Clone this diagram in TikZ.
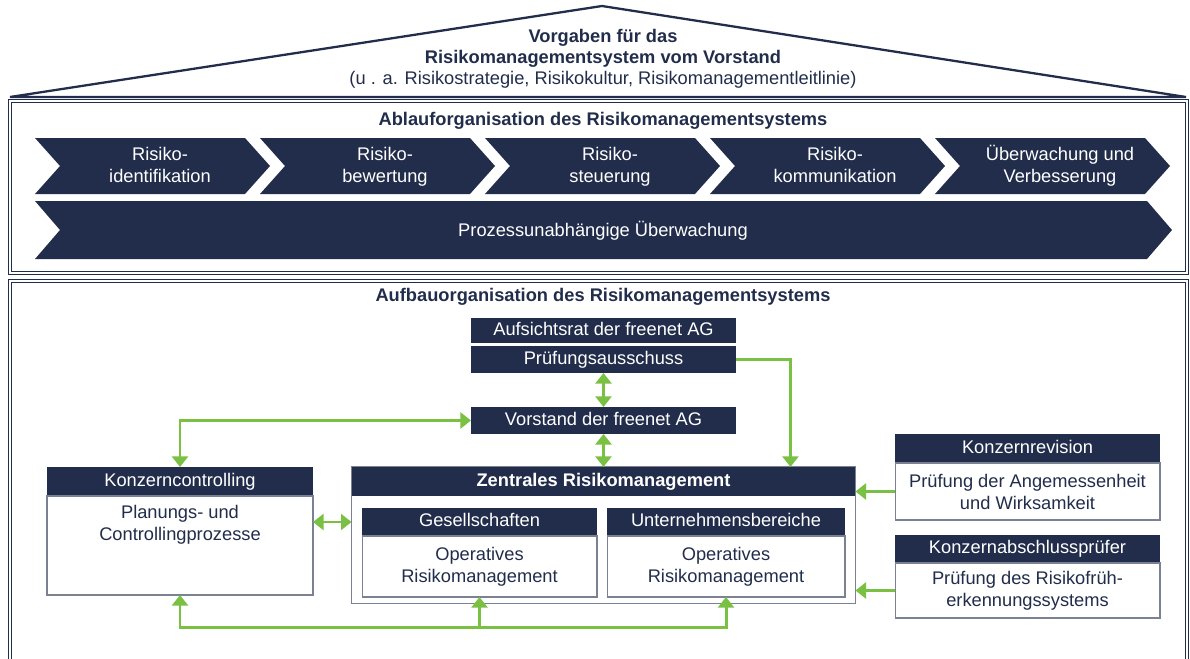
\documentclass[tikz,border=0pt]{standalone}
\usepackage{fontspec}
\setmainfont{Liberation Sans}
\usetikzlibrary{arrows.meta,positioning}
\definecolor{navy}{RGB}{33,45,74}
\definecolor{lime}{RGB}{122,192,67}

\begin{document}
\begin{tikzpicture}[x=0.02cm,y=-0.02cm,>={Triangle[width=9pt,length=6pt]},
	font=\fontsize{10.4}{12.5}\selectfont,text=navy,
	title/.style={font=\fontsize{10.4}{12.5}\selectfont\bfseries},
	head/.style={fill=navy,text=white,minimum height=0.56cm,text height=7.6pt,text depth=2.2pt,inner sep=1pt,outer sep=0pt},
	body/.style={draw=navy!60,line width=0.6pt,fill=white,align=center,inner sep=1pt,outer sep=0pt},
	flow/.style={draw=lime,line width=1.7pt},
	frame/.style={draw=navy,line width=0.7pt,double=white,double distance=0.6pt}]

	\useasboundingbox (0,0) rectangle (1190,659);

	% roof
	\draw[navy,line width=1.3pt] (10,97) -- (602,6) -- (1186,97) -- cycle;
	\node[align=center,font=\fontsize{10.4}{12}\selectfont] (vorgaben) at (603,59)
		{\textbf{Vorgaben für das}\\\textbf{Risikomanagementsystem vom Vorstand}\\(u . a. Risikostrategie, Risikokultur, Risikomanagementleitlinie)};

	% process chain
	\draw[frame] (10,101) rectangle (1187,273);
	\node[title] (ablauf) at (603,121) {Ablauforganisation des Risikomanagementsystems};
	\foreach \i/\txt in {0/{Risiko-\strut\\identifikation\strut},1/{Risiko-\strut\\bewertung\strut},2/{Risiko-\strut\\steuerung\strut},
		3/{Risiko-\strut\\kommunikation\strut},4/{Überwachung und\strut\\Verbesserung\strut}}{
		\fill[navy] (35+225*\i,138) -- ++(210,0) -- ++(25,28) -- ++(-25,28) -- ++(-210,0) -- ++(25,-28) -- cycle;
		\node[text=white,align=center] (proc\i) at (160+225*\i,167) {\txt};
	}
	\fill[navy] (35,201) -- (1147,201) -- (1172,230) -- (1147,259) -- (35,259) -- (60,230) -- cycle;
	\node[text=white] (unabh) at (603,231) {Prozessunabhängige Überwachung};

	% organisation
	\draw[frame] (10,664) -- (10,281) -- (1187,281) -- (1187,664);
	\node[title] (aufbau) at (603,297) {Aufbauorganisation des Risikomanagementsystems};

	\node[head,minimum width=5.3cm,minimum height=0.5cm] (aufsicht) at (603.5,330.5) {Aufsichtsrat der freenet AG};
	\node[head,minimum width=5.3cm,minimum height=0.54cm,below=0.06cm of aufsicht] (pruefung) {Prüfungsausschuss};
	\node[head,minimum width=5.3cm,minimum height=0.54cm,below=0.68cm of pruefung] (vorstand) {Vorstand der freenet AG};

	\node[body,minimum width=10.08cm,minimum height=2.74cm,below=0.66cm of vorstand] (zrm) {};
	\node[head,title,text=white,minimum width=10.08cm,minimum height=0.58cm,below=0pt of zrm.north] (zhead) {Zentrales Risikomanagement};
	\node[head,minimum width=4.7cm] (gesellhead) at (479.5,522) {Gesellschaften};
	\node[body,minimum width=4.7cm,minimum height=1.22cm,below=0pt of gesellhead] (gesellbody) {Operatives\\Risikomanagement};
	\node[head,minimum width=4.76cm] (unterhead) at (726,522) {Unternehmensbereiche};
	\node[body,minimum width=4.76cm,minimum height=1.22cm,below=0pt of unterhead] (unterbody) {Operatives\\Risikomanagement};

	\node[head,minimum width=5.32cm,minimum height=0.58cm] (ctrlhead) at (180,481.5) {Konzerncontrolling};
	\node[body,minimum width=5.32cm,minimum height=1.98cm,below=0pt of ctrlhead] (ctrlbody) {};
	\node[align=center] (ctrltext) at (180,525) {Planungs- und\\Controllingprozesse};

	\node[head,minimum width=5.3cm,minimum height=0.58cm] (revhead) at (1027.5,448.5) {Konzernrevision};
	\node[body,minimum width=5.3cm,minimum height=1.14cm,below=0pt of revhead] (revbody) {Prüfung der Angemessenheit\\und Wirksamkeit};
	\node[head,minimum width=5.3cm] (abshead) at (1027.5,549) {Konzernabschlussprüfer};
	\node[body,minimum width=5.3cm,minimum height=1.1cm,below=0pt of abshead] (absbody) {Prüfung des Risikofrüh-\\erkennungssystems};

	\coordinate (bl) at (180,627);
	\coordinate (br) at (726,627);

	\draw[flow,<->] (pruefung.south) -- (vorstand.north);
	\draw[flow,<->] (vorstand.south) -- (zhead.north);
	\draw[flow,<->] (vorstand.west) -| (ctrlhead.north);
	\draw[flow,->] (pruefung.east) -| ([xshift=3.74cm]zrm.north);
	\draw[flow,<->] (ctrlbody.east |- gesellhead) -- (zrm.west |- gesellhead);
	\draw[flow,->] (revbody.west) -- (zrm.east |- revbody.west);
	\draw[flow,->] (absbody.west) -- (zrm.east |- absbody.west);
	\draw[flow,<->] (ctrlbody.south) -- (bl) -- (br) -- (unterbody.south);
	\draw[flow,->] (gesellbody.south |- bl) -- (gesellbody.south);
\end{tikzpicture}
\end{document}
